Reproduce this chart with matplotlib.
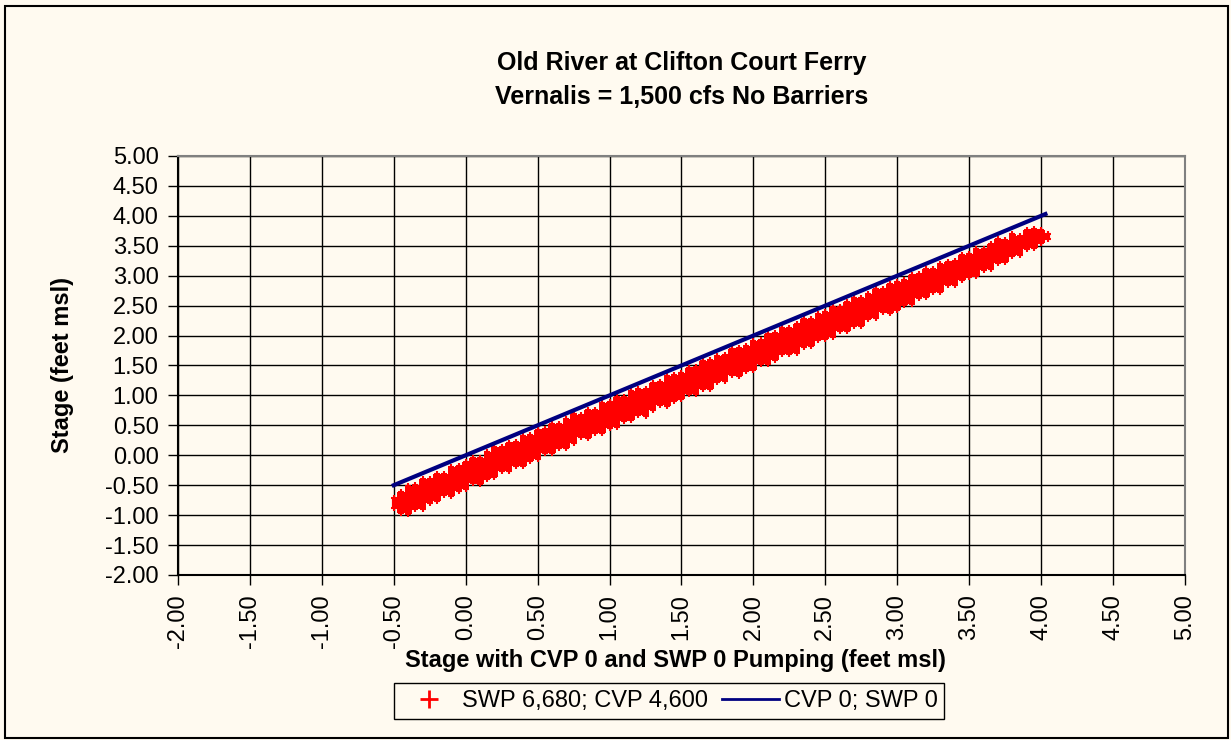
import numpy as np
import matplotlib
matplotlib.use("Agg")
import matplotlib.pyplot as plt
from matplotlib.patches import Rectangle
from matplotlib.lines import Line2D

plt.rcParams["font.family"] = ["Liberation Sans", "DejaVu Sans"]

# stage with CVP 0 / SWP 0 pumping (x) and the spread of the pumped stage at each x
base_stage = [
    -0.50, -0.45, -0.40, -0.35, -0.30, -0.25, -0.20, -0.15, -0.10, -0.05,
    0.00, 0.05, 0.10, 0.15, 0.20, 0.25, 0.30, 0.35, 0.40, 0.45,
    0.50, 0.55, 0.60, 0.65, 0.70, 0.75, 0.80, 0.85, 0.90, 0.95,
    1.00, 1.05, 1.10, 1.15, 1.20, 1.25, 1.30, 1.35, 1.40, 1.45,
    1.50, 1.55, 1.60, 1.65, 1.70, 1.75, 1.80, 1.85, 1.90, 1.95,
    2.00, 2.05, 2.10, 2.15, 2.20, 2.25, 2.30, 2.35, 2.40, 2.45,
    2.50, 2.55, 2.60, 2.65, 2.70, 2.75, 2.80, 2.85, 2.90, 2.95,
    3.00, 3.05, 3.10, 3.15, 3.20, 3.25, 3.30, 3.35, 3.40, 3.45,
    3.50, 3.55, 3.60, 3.65, 3.70, 3.75, 3.80, 3.85, 3.90, 3.95,
    4.00, 4.05,
]
pumped_high = [
    -0.72, -0.61, -0.52, -0.50, -0.40, -0.39, -0.31, -0.31, -0.19, -0.18,
    -0.12, -0.04, -0.04, 0.05, 0.13, 0.13, 0.20, 0.22, 0.32, 0.34,
    0.43, 0.44, 0.52, 0.52, 0.61, 0.69, 0.68, 0.76, 0.76, 0.87,
    0.89, 0.97, 0.97, 1.08, 1.10, 1.11, 1.21, 1.23, 1.32, 1.34,
    1.37, 1.46, 1.48, 1.58, 1.59, 1.66, 1.67, 1.77, 1.80, 1.83,
    1.91, 1.93, 2.03, 2.04, 2.12, 2.12, 2.20, 2.28, 2.28, 2.36,
    2.39, 2.47, 2.47, 2.56, 2.63, 2.63, 2.70, 2.77, 2.77, 2.86,
    2.90, 2.92, 3.02, 3.03, 3.11, 3.11, 3.20, 3.23, 3.25, 3.34,
    3.36, 3.45, 3.44, 3.53, 3.61, 3.60, 3.69, 3.67, 3.77, 3.78,
    3.76, 3.70,
]
pumped_low = [
    -0.88, -0.97, -0.98, -0.90, -0.90, -0.79, -0.77, -0.67, -0.68, -0.60,
    -0.56, -0.47, -0.48, -0.39, -0.37, -0.26, -0.26, -0.18, -0.18, -0.10,
    -0.06, 0.03, 0.03, 0.12, 0.12, 0.21, 0.30, 0.29, 0.37, 0.38,
    0.46, 0.47, 0.58, 0.59, 0.67, 0.66, 0.75, 0.84, 0.83, 0.91,
    0.94, 1.03, 1.03, 1.11, 1.11, 1.22, 1.24, 1.34, 1.33, 1.41,
    1.43, 1.52, 1.52, 1.60, 1.69, 1.69, 1.71, 1.81, 1.83, 1.93,
    1.95, 1.97, 2.08, 2.08, 2.16, 2.16, 2.27, 2.29, 2.39, 2.38,
    2.42, 2.51, 2.53, 2.63, 2.64, 2.72, 2.73, 2.84, 2.85, 2.92,
    2.98, 3.00, 3.10, 3.12, 3.21, 3.23, 3.33, 3.35, 3.44, 3.46,
    3.54, 3.62,
]

# no-pumping reference series
ref_x = [-0.50, 4.03]
ref_y = [-0.50, 4.03]

ticks = [-2.0, -1.5, -1.0, -0.5, 0.0, 0.5, 1.0, 1.5, 2.0, 2.5, 3.0, 3.5, 4.0, 4.5, 5.0]

bg = "#FFFAF0"
red = "#FF0000"
navy = "#000080"

fig = plt.figure(figsize=(12.31, 7.40), dpi=100, facecolor=bg)
ax = fig.add_axes([0.1446, 0.2230, 0.818, 0.5662], facecolor=bg)

x = np.array(base_stage)
lo = np.array(pumped_low)
hi = np.array(pumped_high)

# dense '+' cloud drawn as a stepped band with vertical streaks
ax.fill_between(x, lo, hi, step="mid", color=red, lw=0, zorder=3)
ax.vlines(x, lo, hi, color=red, lw=3, zorder=3)
ax.plot(x, hi, ls="none", marker="+", ms=5, mew=1.5, color=red, zorder=3)
ax.plot(x, lo, ls="none", marker="+", ms=5, mew=1.5, color=red, zorder=3)
ax.plot(ref_x, ref_y, color=navy, lw=3, zorder=4)

ax.set_xlim(-2, 5)
ax.set_ylim(-2, 5)
ax.set_xticks(ticks)
ax.set_yticks(ticks)
ax.set_xticklabels([f"{t:.2f}" for t in ticks], rotation=90)
ax.set_yticklabels([f"{t:.2f}" for t in ticks])
ax.tick_params(labelsize=17, length=7, width=1, color="black", direction="out", pad=7)
ax.grid(True, color="black", lw=1, zorder=1)
ax.set_axisbelow(True)
for side in ["top", "right"]:
    ax.spines[side].set_color("#808080")
    ax.spines[side].set_linewidth(1.5)
for side in ["left", "bottom"]:
    ax.spines[side].set_color("black")
    ax.spines[side].set_linewidth(1.5)

fig.text(0.554, 1 - 63 / 740, "Old River at Clifton Court Ferry", ha="center", va="center",
         fontsize=18, fontweight="bold")
fig.text(0.554, 1 - 97 / 740, "Vernalis = 1,500 cfs No Barriers", ha="center", va="center",
         fontsize=18, fontweight="bold")
fig.text(62 / 1231, 1 - 365 / 740, "Stage (feet msl)", rotation=90, ha="center", va="center",
         fontsize=17, fontweight="bold")
fig.text(675 / 1231, 1 - 661 / 740, "Stage with CVP 0 and SWP 0 Pumping (feet msl)",
         ha="center", va="center", fontsize=17, fontweight="bold")

handles = [
    Line2D([], [], ls="none", marker="+", ms=13, mew=2, color=red),
    Line2D([], [], color=navy, lw=2),
]
leg = fig.legend(handles, ["SWP 6,680; CVP 4,600", "CVP 0; SWP 0"], ncol=2,
                 loc="center", bbox_to_anchor=(669 / 1231, 1 - 701 / 740),
                 fontsize=17, frameon=True, fancybox=False, edgecolor="black",
                 facecolor=bg, framealpha=1, handlelength=2.4, columnspacing=0.6,
                 handletextpad=0.2, borderpad=0.3, borderaxespad=0)
leg.get_frame().set_linewidth(1)

fig.add_artist(Rectangle((5 / 1231, 2 / 740), 1223 / 1231, 732 / 740, transform=fig.transFigure,
                         fill=False, edgecolor="black", lw=1.5))

fig.savefig("out.png", dpi=100, facecolor=bg)
